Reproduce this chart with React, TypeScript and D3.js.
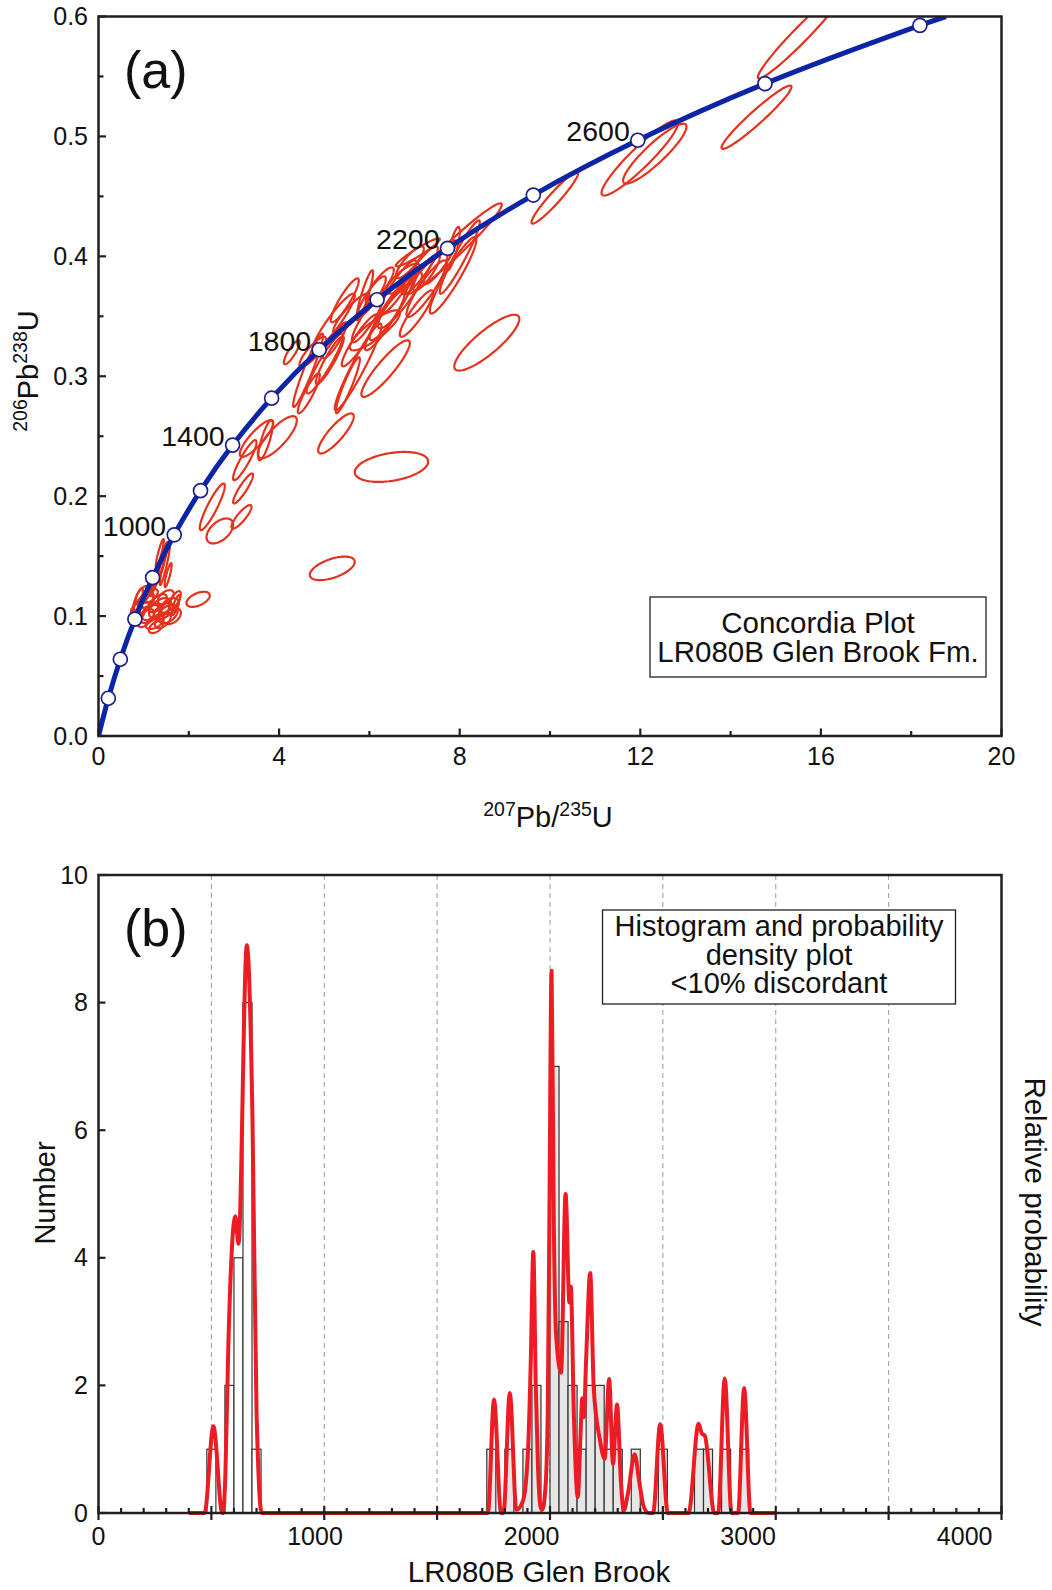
import React from "react";
import * as d3 from "d3";

// ---------- (a) concordia ----------
const concordiaAges = [200, 400, 600, 800, 1000, 1200, 1400, 1600, 1800, 2000, 2200, 2400, 2600, 2800, 3000];
const concordiaX = [0.218, 0.483, 0.806, 1.199, 1.677, 2.260, 2.970, 3.834, 4.887, 6.169, 7.730, 9.630, 11.944, 14.762, 18.193];
const concordiaY = [0.0315, 0.064, 0.0975, 0.1321, 0.1678, 0.2046, 0.2426, 0.2817, 0.3221, 0.3638, 0.4067, 0.4511, 0.4968, 0.544, 0.5926];
const concordiaStart = [0, 0];
const concordiaEnd = [18.77, 0.6];
const labelledAges = [1000, 1400, 1800, 2200, 2600];

// error ellipses: [207/235, 206/238, half width x, half height y, rho]
const ellipses = [
  [15.555, 0.585, 0.952, 0.0367, 0.97],
  [14.574, 0.516, 0.775, 0.0264, 0.96],
  [11.989, 0.482, 0.848, 0.0313, 0.93],
  [12.321, 0.4856, 0.702, 0.025, 0.9],
  [10.106, 0.4488, 0.516, 0.0215, 0.95],
  [8.6, 0.328, 0.72, 0.0233, 0.85],
  [6.489, 0.2244, 0.813, 0.0125, 0.35],
  [5.178, 0.1398, 0.498, 0.0098, 0.55],
  [5.26, 0.2523, 0.394, 0.0167, 0.85],
  [2.206, 0.114, 0.259, 0.0063, 0.5],
  [2.687, 0.171, 0.295, 0.0104, 0.5],
  [3.167, 0.1828, 0.221, 0.0098, 0.85],
  [2.52, 0.1911, 0.277, 0.0194, 0.9],
  [3.203, 0.2064, 0.221, 0.0125, 0.9],
  [3.24, 0.23, 0.259, 0.0167, 0.9],
  [3.499, 0.2481, 0.37, 0.0153, 0.85],
  [3.96, 0.2492, 0.432, 0.0175, 0.8],
  [3.699, 0.2467, 0.162, 0.0167, 0.8],
  [4.642, 0.305, 0.332, 0.0306, 0.95],
  [4.658, 0.2858, 0.244, 0.0167, 0.9],
  [5.212, 0.3453, 0.465, 0.0236, 0.93],
  [5.012, 0.3106, 0.405, 0.025, 0.93],
  [5.75, 0.3078, 0.516, 0.0361, 0.95],
  [6.359, 0.3064, 0.536, 0.0236, 0.9],
  [6.12, 0.3383, 0.554, 0.0167, 0.85],
  [5.604, 0.3523, 0.405, 0.0167, 0.88],
  [5.898, 0.3675, 0.184, 0.0208, 0.9],
  [6.489, 0.3564, 0.481, 0.0264, 0.92],
  [6.636, 0.3744, 0.405, 0.0223, 0.9],
  [6.746, 0.3814, 0.37, 0.0125, 0.8],
  [7.043, 0.3523, 0.37, 0.0194, 0.9],
  [7.265, 0.3731, 0.443, 0.0236, 0.9],
  [7.854, 0.3842, 0.516, 0.0319, 0.93],
  [8.002, 0.3994, 0.443, 0.0306, 0.95],
  [7.854, 0.4064, 0.148, 0.0181, 0.8],
  [7.265, 0.3869, 0.295, 0.0153, 0.85],
  [7.869, 0.4063, 1.063, 0.0379, 0.97],
  [4.746, 0.3203, 0.295, 0.0125, 0.85],
  [5.455, 0.3633, 0.31, 0.0183, 0.9],
  [6.23, 0.3758, 0.31, 0.015, 0.85],
  [5.965, 0.3483, 0.354, 0.02, 0.9],
  [6.895, 0.395, 0.31, 0.0133, 0.85],
  [5.234, 0.33, 0.266, 0.015, 0.9],
  [4.281, 0.32, 0.177, 0.01, 0.85],
  [7.072, 0.4033, 0.487, 0.0117, 0.95],
  [6.677, 0.3633, 0.487, 0.0233, 0.9],
  [6.345, 0.3467, 0.443, 0.025, 0.92],
  [7.117, 0.3883, 0.399, 0.02, 0.9],
  [5.787, 0.33, 0.399, 0.0217, 0.92],
  [7.559, 0.395, 0.354, 0.0183, 0.9],
  [6.054, 0.3667, 0.31, 0.0167, 0.88],
  [5.123, 0.3133, 0.31, 0.02, 0.92],
  [5.522, 0.2925, 0.266, 0.0233, 0.93],
  [1.424, 0.1467, 0.111, 0.015, 0.9],
  [1.313, 0.1342, 0.133, 0.0125, 0.9],
  [1.136, 0.1233, 0.133, 0.01, 0.85],
  [1.542, 0.1342, 0.078, 0.01, 0.85],
  [1.358, 0.1525, 0.089, 0.0117, 0.9],
  [1.468, 0.1425, 0.111, 0.0167, 0.92],
  [1.247, 0.13, 0.111, 0.0133, 0.9],
  [0.917, 0.1067, 0.2, 0.0058, 0.5],
  [1.048, 0.1133, 0.177, 0.0067, 0.5],
  [1.18, 0.1033, 0.221, 0.0067, 0.5],
  [1.313, 0.1108, 0.2, 0.0075, 0.6],
  [1.446, 0.1042, 0.221, 0.0067, 0.5],
  [1.579, 0.1083, 0.2, 0.0067, 0.4],
  [1.048, 0.0983, 0.177, 0.0075, 0.6],
  [1.248, 0.095, 0.2, 0.0058, 0.5],
  [1.426, 0.0967, 0.177, 0.0067, 0.5],
  [1.625, 0.1, 0.2, 0.0067, 0.4],
  [0.958, 0.1183, 0.133, 0.0067, 0.7],
  [1.136, 0.1167, 0.177, 0.0058, 0.6],
  [0.871, 0.1008, 0.155, 0.0067, 0.6],
  [1.49, 0.1158, 0.177, 0.0058, 0.5],
  [1.271, 0.0908, 0.155, 0.005, 0.5],
  [1.712, 0.1092, 0.089, 0.0083, 0.8],
  [1.004, 0.11, 0.221, 0.0075, 0.5],
  [1.361, 0.1067, 0.244, 0.0083, 0.5],
  [1.535, 0.1017, 0.221, 0.0075, 0.4],
  [1.136, 0.1017, 0.221, 0.0075, 0.5],
  [1.69, 0.1133, 0.133, 0.0075, 0.7],
  [0.872, 0.1133, 0.111, 0.01, 0.8],
];

// ---------- (b) histogram + probability density ----------
const binWidth = 40;
const binStarts = [480, 560, 600, 640, 680, 1720, 1800, 1880, 1920, 2000, 2040, 2080, 2120, 2160, 2200, 2240, 2280, 2360, 2480, 2640, 2680, 2760, 2840];
const binCounts = [1, 2, 4, 8, 1, 1, 1, 1, 2, 7, 3, 2, 1, 2, 2, 1, 1, 1, 1, 1, 1, 1, 1];

// probability curve (age Ma, height in "number" units)
const pdfPoints = [
  [400, 0], [470, 0], [509, 1.36], [548, 0], [552, 0], [562, 0.6], [575, 2.6], [606, 4.65], [620, 4.22],
  [657, 8.9], [682, 6.2], [700, 1.6], [723, 0], [1725, 0], [1752, 1.78], [1783, 0], [1794, 0], [1822, 1.88],
  [1851, 0.05], [1881, 0.2], [1903, 1.0], [1915, 2.4], [1926, 4.09], [1937, 2.0], [1947, 0.7], [1958, 0.1],
  [1966, 0.05], [1980, 0.4], [1990, 1.6], [1997, 4.5], [2007, 8.5], [2017, 4.5], [2027, 2.8], [2049, 2.2],
  [2069, 5.0], [2086, 3.3], [2092, 3.55], [2106, 1.5], [2123, 0.25], [2135, 1.2], [2143, 1.8], [2150, 1.5],
  [2160, 2.4], [2178, 3.76], [2194, 1.94], [2221, 1.15], [2242, 0.85], [2262, 2.1], [2279, 0.77], [2297, 1.7],
  [2314, 0.5], [2327, 0.04], [2345, 0.3], [2375, 0.92], [2395, 0.5], [2415, 0.1], [2437, 0], [2457, 0],
  [2488, 1.39], [2522, 0], [2614, 0], [2658, 1.4], [2672, 1.25], [2686, 1.21], [2728, 0], [2745, 0],
  [2774, 2.11], [2804, 0], [2833, 0], [2860, 1.96], [2888, 0], [3000, 0],
];

const ageLabels = [0, 1000, 2000, 3000, 4000];
const gridAges = [500, 1000, 1500, 2000, 2500, 3000, 3500];

const FONT = "'Liberation Sans', Arial, Helvetica, sans-serif";
const INK = "#231f20";

const A = { left: 98.5, right: 1001.5, top: 16.5, bottom: 736 };
const B = { left: 98.5, right: 1001.5, top: 875, bottom: 1513 };

export default function App() {
  const xA = d3.scaleLinear().domain([0, 20]).range([A.left, A.right]);
  const yA = d3.scaleLinear().domain([0, 0.6]).range([A.bottom, A.top]);
  const xB = d3.scaleLinear().domain([0, 4000]).range([B.left, B.right]);
  const xBLabel = d3.scaleLinear().domain([0, 4170]).range([B.left, B.right]);
  const yB = d3.scaleLinear().domain([0, 10]).range([B.bottom, B.top]);

  const concPts = [concordiaStart, ...concordiaX.map((v, i) => [v, concordiaY[i]]), concordiaEnd];
  const concLine = d3
    .line()
    .x((d) => xA(d[0]))
    .y((d) => yA(d[1]))
    .curve(d3.curveCatmullRom.alpha(0.5))(concPts as any);

  const ellipsePath = (e) => {
    const [cx, cy, hx, hy, r] = e;
    const k = Math.sqrt(1 - r * r);
    const pts = d3.range(96).map((i) => {
      const t = (i / 96) * 2 * Math.PI;
      return [xA(cx + hx * Math.cos(t)), yA(cy + hy * (r * Math.cos(t) + k * Math.sin(t)))];
    });
    return d3.line().curve(d3.curveLinearClosed)(pts as any);
  };

  const pdfLine = d3
    .line()
    .x((d) => xB(d[0]))
    .y((d) => yB(d[1]))
    .curve(d3.curveMonotoneX)(pdfPoints as any);

  const xTicksA = d3.range(0, 21, 2);
  const yTicksA = d3.range(0, 13).map((i) => i * 0.05);
  const xTicksB = d3.range(0, 4001, 100);
  const yTicksB = d3.range(0, 11, 2);

  return (
    <svg
      width={1052}
      height={1590}
      style={{ position: "absolute", left: 0, top: 0, background: "#fff" }}
      fontFamily={FONT}
    >
      <defs>
        <clipPath id="clipA">
          <rect x={A.left} y={A.top} width={A.right - A.left} height={A.bottom - A.top} />
        </clipPath>
      </defs>

      {/* ---------------- panel (a) ---------------- */}
      <g clipPath="url(#clipA)">
        {ellipses.map((e, i) => (
          <path key={i} d={ellipsePath(e)} fill="none" stroke="#e6321c" strokeWidth={2.2} />
        ))}
        <path d={concLine} fill="none" stroke="#0b25a6" strokeWidth={5} />
      </g>
      {concordiaAges.map((age, i) => (
        <circle
          key={age}
          cx={xA(concordiaX[i])}
          cy={yA(concordiaY[i])}
          r={7}
          fill="#fff"
          stroke="#1b1f8c"
          strokeWidth={1.7}
        />
      ))}
      {labelledAges.map((age) => {
        const i = concordiaAges.indexOf(age);
        return (
          <text
            key={age}
            x={xA(concordiaX[i]) - 8}
            y={yA(concordiaY[i]) + 1}
            textAnchor="end"
            fontSize={28.5}
            fill="#111"
          >
            {age}
          </text>
        );
      })}

      <rect
        x={A.left}
        y={A.top}
        width={A.right - A.left}
        height={A.bottom - A.top}
        fill="none"
        stroke={INK}
        strokeWidth={2.5}
      />
      {xTicksA.map((v) => (
        <line
          key={v}
          x1={xA(v)}
          x2={xA(v)}
          y1={A.bottom}
          y2={A.bottom - (v % 4 === 0 ? 7.5 : 5)}
          stroke={INK}
          strokeWidth={2.2}
        />
      ))}
      {xTicksA
        .filter((v) => v % 4 === 0)
        .map((v) => (
          <text key={v} x={xA(v)} y={A.bottom + 29} textAnchor="middle" fontSize={25} fill="#111">
            {v}
          </text>
        ))}
      {yTicksA.map((v, i) => (
        <line
          key={i}
          x1={A.left}
          x2={A.left + (i % 2 === 0 ? 7.5 : 5)}
          y1={yA(v)}
          y2={yA(v)}
          stroke={INK}
          strokeWidth={2.2}
        />
      ))}
      {yTicksA
        .filter((v, i) => i % 2 === 0)
        .map((v) => (
          <text key={v} x={88} y={yA(v) + 8.5} textAnchor="end" fontSize={25} fill="#111">
            {d3.format(".1f")(v)}
          </text>
        ))}

      <text x={124} y={87.5} fontSize={52} fill="#111">
        (a)
      </text>

      <rect x={650} y={597} width={336} height={80} fill="#fff" stroke={INK} strokeWidth={1.3} />
      <text x={818} y={632.5} textAnchor="middle" fontSize={29.5} fill="#111">
        Concordia Plot
      </text>
      <text x={818} y={661.5} textAnchor="middle" fontSize={29.5} fill="#111">
        LR080B Glen Brook Fm.
      </text>

      <text x={548} y={827} textAnchor="middle" fontSize={29} fill="#111">
        <tspan fontSize={19.5} dy={-11}>207</tspan>
        <tspan dy={11}>Pb/</tspan>
        <tspan fontSize={19.5} dy={-11}>235</tspan>
        <tspan dy={11}>U</tspan>
      </text>
      <text transform="translate(38,371) rotate(-90)" textAnchor="middle" fontSize={29} fill="#111">
        <tspan fontSize={19.5} dy={-11}>206</tspan>
        <tspan dy={11}>Pb</tspan>
        <tspan fontSize={19.5} dy={-11}>238</tspan>
        <tspan dy={11}>U</tspan>
      </text>

      {/* ---------------- panel (b) ---------------- */}
      {gridAges.map((a) => (
        <line
          key={a}
          x1={xB(a)}
          x2={xB(a)}
          y1={B.top}
          y2={B.bottom}
          stroke="#9a9a9a"
          strokeWidth={1}
          strokeDasharray="5,4"
        />
      ))}
      {binStarts.map((s, i) => (
        <rect
          key={s}
          x={xB(s)}
          y={yB(binCounts[i])}
          width={xB(s + binWidth) - xB(s)}
          height={yB(0) - yB(binCounts[i])}
          fill={s < 1000 ? "#fff" : "#e6e6e6"}
          stroke="#333"
          strokeWidth={1.2}
        />
      ))}
      <path d={pdfLine} fill="none" stroke="#ed1c24" strokeWidth={4} strokeLinejoin="round" />

      <rect
        x={B.left}
        y={B.top}
        width={B.right - B.left}
        height={B.bottom - B.top}
        fill="none"
        stroke={INK}
        strokeWidth={2.5}
      />
      {xTicksB.map((v) => {
        const major = v % 500 === 0;
        return (
          <line
            key={v}
            x1={xB(v)}
            x2={xB(v)}
            y1={B.bottom + (major ? 7 : 0)}
            y2={B.bottom - (major ? 7 : 5)}
            stroke={INK}
            strokeWidth={2.2}
          />
        );
      })}
      {ageLabels.map((v) => (
        <text key={v} x={xBLabel(v)} y={B.bottom + 32} textAnchor="middle" fontSize={25} fill="#111">
          {v}
        </text>
      ))}
      {yTicksB.map((v) => (
        <line key={v} x1={B.left} x2={B.left + 7} y1={yB(v)} y2={yB(v)} stroke={INK} strokeWidth={2.2} />
      ))}
      {yTicksB.map((v) => (
        <text key={v} x={88} y={yB(v) + 8.5} textAnchor="end" fontSize={25} fill="#111">
          {v}
        </text>
      ))}

      <text x={124} y={946} fontSize={52} fill="#111">
        (b)
      </text>

      <rect x={602.5} y={910} width={353} height={94} fill="#fff" stroke={INK} strokeWidth={1.3} />
      <text x={779} y={935.5} textAnchor="middle" fontSize={29} fill="#111">
        Histogram and probability
      </text>
      <text x={779} y={964.5} textAnchor="middle" fontSize={29} fill="#111">
        density plot
      </text>
      <text x={779} y={993} textAnchor="middle" fontSize={29} fill="#111">
        &lt;10% discordant
      </text>

      <text x={539} y={1582} textAnchor="middle" fontSize={29.5} fill="#111">
        LR080B Glen Brook
      </text>
      <text transform="translate(55,1193) rotate(-90)" textAnchor="middle" fontSize={29} fill="#111">
        Number
      </text>
      <text transform="translate(1025,1202) rotate(90)" textAnchor="middle" fontSize={29.5} fill="#111">
        Relative probability
      </text>
    </svg>
  );
}
